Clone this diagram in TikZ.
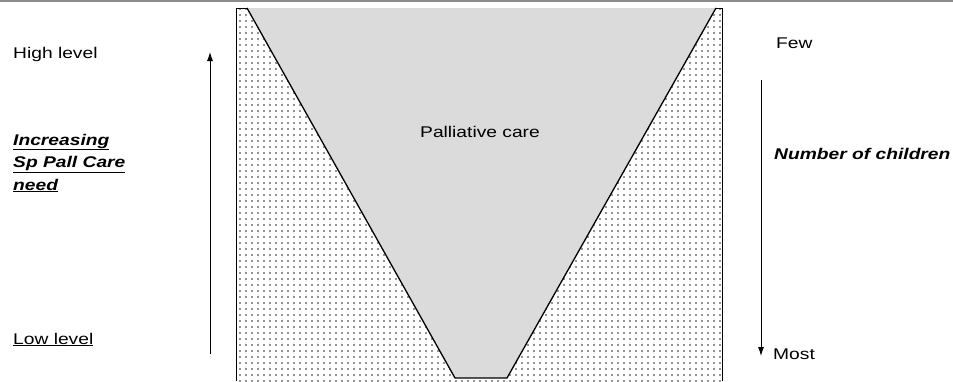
\documentclass[tikz,border=0pt]{standalone}
\usepackage{fontspec}
\setmainfont{Liberation Sans}[FakeStretch=1.24]
\usetikzlibrary{arrows.meta, patterns.meta, positioning}
\colorlet{FunnelFill}{black!14}
\colorlet{DotColor}{black!85}
\colorlet{ScanLine}{black!45}

\begin{document}
\begin{tikzpicture}[
    x=1pt, y=-1pt,
    label/.style={font=\fontsize{15.5}{18}\selectfont, anchor=base west,
                  inner sep=0pt, align=left},
    heading/.style={label, font=\fontsize{15.5}{22.5}\selectfont\bfseries\itshape},
    arr/.style={-{Latex[length=9pt, width=6pt]}, line width=0.9pt}
]
\useasboundingbox (0,0) rectangle (953,381);

% ===================================================================
% FRAME AND FUNNEL
% ===================================================================
\draw[ScanLine, line width=2.5pt] (0,1) -- (953,1);

\fill[pattern={Dots[radius=0.8pt, distance=6pt]}, pattern color=DotColor]
    (236,8) rectangle (722,381);
\draw[line width=0.9pt] (236,381) -- (236,8) -- (722,8) -- (722,381);

\filldraw[fill=FunnelFill, line width=1.3pt]
    (247,8) -- (455,378) -- (507,378) -- (716,8);

\node[label, anchor=center] (care) at (480,132) {Palliative care};

% ===================================================================
% LEFT SCALE
% ===================================================================
\node[label] (high) at (13,58) {High level};
\node[heading] (need) at (13,190)
    {\underline{Increasing}\\ \underline{Sp Pall Care}\\ \underline{need}};
\node[label] (low) at (13,344) {\underline{Low level}};

\coordinate (upfrom) at (210,354);
\coordinate (upto) at (210,52);
\draw[arr] (upfrom) -- (upto);

% ===================================================================
% RIGHT SCALE
% ===================================================================
\node[label] (few) at (776,48) {Few};
\node[heading] (children) at (774,159) {Number of children};
\node[label] (most) at (773,359) {Most};

\coordinate (downfrom) at (761,80);
\coordinate (downto) at (761,356);
\draw[arr] (downfrom) -- (downto);

\end{tikzpicture}
\end{document}
